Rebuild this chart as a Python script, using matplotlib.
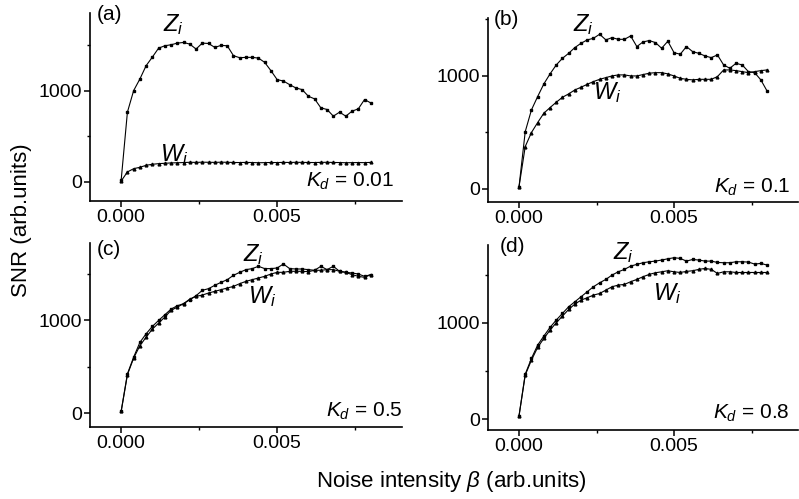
import matplotlib
matplotlib.use("Agg")
import matplotlib.pyplot as plt
from matplotlib.ticker import MultipleLocator
import numpy as np

plt.rcParams["font.family"] = ["Liberation Sans", "DejaVu Sans"]
plt.rcParams["mathtext.fontset"] = "custom"
plt.rcParams["mathtext.it"] = "Liberation Sans:italic"
plt.rcParams["mathtext.rm"] = "Liberation Sans"

# noise intensity beta, 0 .. 0.008 in steps of 0.0002
beta = np.round(np.arange(41) * 0.0002, 4)

z_a = [20, 764, 1000, 1127, 1273, 1367, 1465, 1491, 1502, 1520, 1527, 1509, 1455, 1520,
       1516, 1473, 1495, 1491, 1382, 1360, 1364, 1364, 1356, 1309, 1218, 1120, 1105, 1065,
       1029, 1011, 938, 909, 811, 793, 720, 764, 720, 775, 800, 902, 865]
w_a = [10, 109, 145, 160, 182, 193, 200, 204, 208, 210, 212, 215, 214, 216, 215, 214,
       216, 215, 213, 212, 214, 212, 210, 211, 213, 212, 214, 213, 215, 214, 213, 212,
       214, 215, 213, 212, 210, 211, 212, 211, 214]

z_b = [20, 507, 699, 817, 929, 1018, 1097, 1156, 1200, 1251, 1289, 1319, 1333, 1369,
       1319, 1339, 1324, 1324, 1354, 1260, 1301, 1313, 1295, 1245, 1307, 1206, 1192, 1260,
       1215, 1200, 1177, 1162, 1186, 1097, 1068, 1112, 1097, 1038, 1029, 965, 867]
w_b = [20, 375, 499, 587, 670, 720, 767, 811, 841, 876, 900, 926, 950, 970, 985, 1000,
       1009, 1009, 1000, 1000, 1012, 1024, 1029, 1029, 1018, 1000, 979, 970, 965, 970,
       970, 970, 994, 1053, 1053, 1047, 1038, 1029, 1038, 1047, 1053]

z_c = [20, 424, 604, 763, 856, 935, 1000, 1061, 1122, 1158, 1180, 1223, 1266, 1324,
       1342, 1378, 1410, 1439, 1486, 1518, 1547, 1558, 1583, 1558, 1558, 1565, 1608, 1558,
       1554, 1554, 1547, 1540, 1583, 1547, 1583, 1529, 1518, 1511, 1500, 1475, 1493]
w_c = [20, 414, 594, 727, 820, 906, 971, 1036, 1108, 1144, 1180, 1230, 1259, 1273, 1295,
       1313, 1331, 1349, 1367, 1396, 1421, 1439, 1457, 1475, 1500, 1518, 1518, 1529, 1529,
       1529, 1525, 1540, 1540, 1547, 1547, 1529, 1518, 1493, 1475, 1464, 1493]

z_d = [35, 467, 630, 768, 862, 952, 1028, 1097, 1166, 1218, 1270, 1322, 1374, 1415,
       1450, 1495, 1529, 1554, 1588, 1606, 1623, 1633, 1640, 1651, 1664, 1675, 1668, 1640,
       1657, 1651, 1640, 1640, 1626, 1623, 1623, 1633, 1633, 1630, 1609, 1616, 1599]
w_d = [35, 457, 612, 744, 837, 924, 1000, 1069, 1138, 1194, 1235, 1260, 1287, 1304,
       1339, 1374, 1391, 1398, 1426, 1450, 1478, 1502, 1519, 1529, 1540, 1529, 1522, 1533,
       1540, 1554, 1564, 1554, 1512, 1529, 1529, 1522, 1522, 1522, 1522, 1522, 1522]

panels = [
    # label, K_d text, Z, W, ylim, axes rect, (label pos), (Z pos), (W pos), (K pos)
    ("(a)", "0.01", z_a, w_a, (-210, 1850), [0.1126, 0.597, 0.3905, 0.377],
     (-0.00077, 1829), (0.00135, 1720), (0.00125, 302), (0.00873, 8)),
    ("(b)", "0.1", z_b, w_b, (-112, 1513), [0.6108, 0.596, 0.388, 0.368],
     (-0.00083, 1495), (0.00173, 1451), (0.00237, 850), (0.00875, 18)),
    ("(c)", "0.5", z_c, w_c, (-145, 1834), [0.1126, 0.145, 0.3905, 0.368],
     (-0.00077, 1762), (0.00389, 1708), (0.00405, 1258), (0.00902, 17)),
    ("(d)", "0.8", z_d, w_d, (-114, 1807), [0.6108, 0.138, 0.388, 0.371],
     (-0.00063, 1790), (0.00304, 1724), (0.00432, 1308), (0.00873, 62)),
]

fig = plt.figure(figsize=(7.99, 4.99), dpi=100)

for label, kd, z, w, ylim, rect, lab_pos, z_pos, w_pos, k_pos in panels:
    ax = fig.add_axes(rect)
    ax.plot(beta, z, color="black", lw=0.8, marker="s", ms=1.7)
    ax.plot(beta, w, color="black", lw=0.8, marker="^", ms=2.0)

    ax.set_xlim(-0.001, 0.009)
    ax.set_ylim(*ylim)
    ax.set_xticks([0.0, 0.005])
    ax.set_xticklabels(["0.000", "0.005"])
    ax.set_yticks([0, 1000])
    ax.xaxis.set_minor_locator(MultipleLocator(0.0025))
    ax.yaxis.set_minor_locator(MultipleLocator(500))
    ax.tick_params(which="major", direction="out", length=4, width=1.1, labelsize=14, pad=2)
    ax.tick_params(which="minor", direction="out", length=2, width=1.0)
    for side in ("top", "right"):
        ax.spines[side].set_visible(False)
    for side in ("left", "bottom"):
        ax.spines[side].set_linewidth(1.2)

    ax.text(*lab_pos, label, fontsize=15, va="center", ha="left")
    ax.text(*z_pos, r"$Z_i$", fontsize=17, va="center", ha="left")
    ax.text(*w_pos, r"$W_i$", fontsize=17, va="center", ha="left")
    ax.text(*k_pos, r"$K_d$ = " + kd, fontsize=15, va="center", ha="right")

fig.text(0.027, 0.559, "SNR (arb.units)", rotation=90, fontsize=16, va="center", ha="center")
fig.text(0.565, 0.035, r"Noise intensity $\beta$ (arb.units)", fontsize=16,
         va="center", ha="center")

fig.savefig("out.png", dpi=100)
